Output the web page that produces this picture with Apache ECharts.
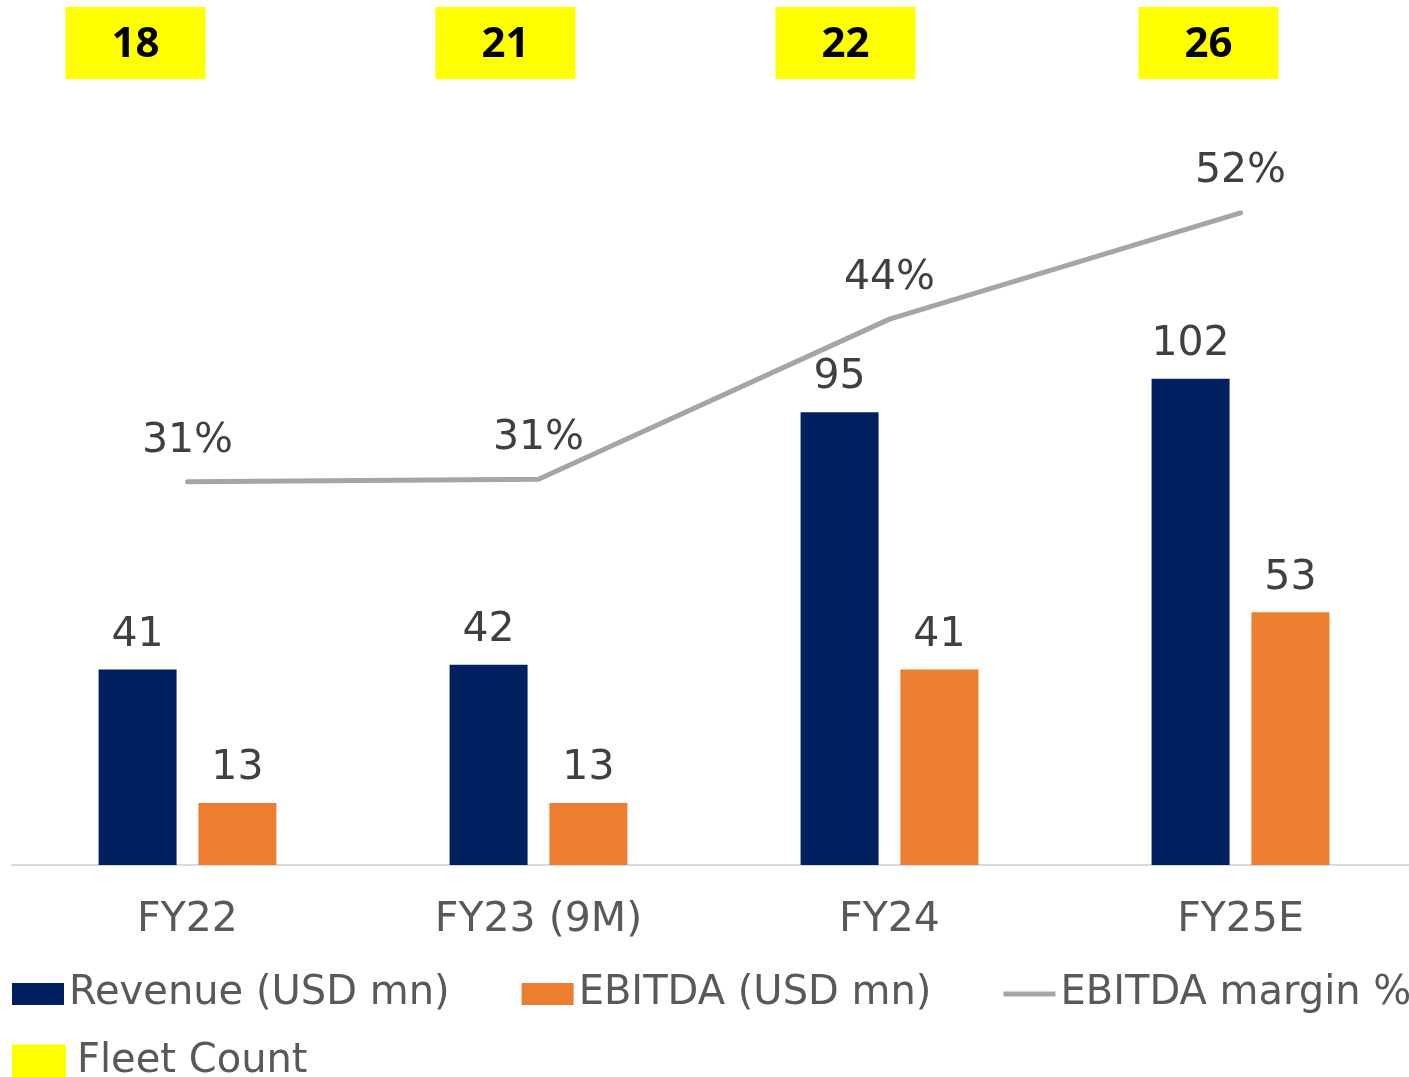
<!DOCTYPE html>
<html>
<head>
<meta charset="utf-8">
<script src="https://cdn.jsdelivr.net/npm/echarts@6/dist/echarts.min.js"></script>
<style>
    html, body { margin: 0; padding: 0; background: #fff; }
    #chart { width: 1409px; height: 1077px; }
</style>
</head>
<body>
<div id="chart"></div>
<script>
    // data
    var years = ['FY22', 'FY23 (9M)', 'FY24', 'FY25E'];
    var revenue = [41, 42, 95, 102];
    var ebitda = [13, 13, 41, 53];
    var margin = [31, 31.2, 43.7, 52];
    var fleet = [18, 21, 22, 26];

    // the yellow boxes sit a little left of each category centre
    var fleetNudge = [-52, -33, -44, -32];

    var font = 'DejaVu Sans';
    var chart = echarts.init(document.getElementById('chart'));

    // thin bar icon for the margin line in the legend (bounds kept at 52x22)
    var lineIcon = 'path://M0,0 M0,8.5 L52,8.5 L52,13.5 L0,13.5 Z M52,22';

    chart.setOption({
        animation: false,
        textStyle: { fontFamily: font },
        grid: [
            { left: 12, width: 1404, top: 150, bottom: 212, outerBoundsMode: 'none', containLabel: false },
            { left: 12, width: 1404, top: 7, height: 72, outerBoundsMode: 'none', containLabel: false }
        ],
        xAxis: [
            {
                type: 'category',
                gridIndex: 0,
                data: years,
                axisLine: { lineStyle: { color: '#d9d9d9', width: 2 } },
                axisTick: { show: false },
                axisLabel: { fontSize: 41, color: '#595959', margin: 35, fontFamily: font }
            },
            {
                type: 'category',
                gridIndex: 1,
                data: years,
                show: false
            }
        ],
        yAxis: [
            { type: 'value', gridIndex: 0, min: 0, max: 150, show: false },
            { type: 'value', gridIndex: 0, min: 1.1, max: 56.9, show: false },
            { type: 'value', gridIndex: 1, min: 0, max: 1, show: false }
        ],
        legend: [
            {
                left: 7,
                top: 969,
                width: 1600,
                itemWidth: 52,
                itemHeight: 22,
                itemGap: 72,
                data: [
                    { name: 'Revenue (USD mn)', icon: 'rect' },
                    { name: 'EBITDA (USD mn)', icon: 'rect' },
                    { name: 'EBITDA margin %', icon: lineIcon }
                ],
                textStyle: { fontSize: 40, color: '#595959', fontFamily: font }
            },
            {
                left: 7,
                top: 1037,
                itemWidth: 54,
                itemHeight: 35,
                data: [{ name: 'Fleet Count', icon: 'rect' }],
                textStyle: { fontSize: 40, color: '#595959', fontFamily: font, padding: [0, 0, 0, 6] }
            }
        ],
        series: [
            {
                name: 'Revenue (USD mn)',
                type: 'bar',
                xAxisIndex: 0,
                yAxisIndex: 0,
                data: revenue,
                barWidth: 78,
                barGap: '28%',
                itemStyle: { color: '#002060' },
                label: { show: true, position: 'top', distance: 14, fontSize: 41, color: '#404040', fontFamily: font }
            },
            {
                name: 'EBITDA (USD mn)',
                type: 'bar',
                xAxisIndex: 0,
                yAxisIndex: 0,
                data: ebitda,
                barWidth: 78,
                itemStyle: { color: '#ed7d31' },
                label: { show: true, position: 'top', distance: 14, fontSize: 41, color: '#404040', fontFamily: font }
            },
            {
                name: 'EBITDA margin %',
                type: 'line',
                xAxisIndex: 0,
                yAxisIndex: 1,
                data: margin,
                symbol: 'circle',
                symbolSize: 1,
                lineStyle: { color: '#a5a5a5', width: 5, cap: 'round' },
                itemStyle: { color: '#a5a5a5' },
                label: {
                    show: true,
                    position: 'top',
                    distance: 20,
                    fontSize: 41,
                    color: '#404040',
                    fontFamily: font,
                    formatter: function (p) { return Math.round(p.value) + '%'; }
                }
            },
            {
                name: 'Fleet Count',
                type: 'scatter',
                xAxisIndex: 1,
                yAxisIndex: 2,
                symbol: 'rect',
                symbolSize: [140, 72],
                itemStyle: { color: '#ffff00', opacity: 1 },
                data: fleet.map(function (v, i) {
                    return { value: [i, 0.5, v], symbolOffset: [fleetNudge[i], 0] };
                }),
                label: {
                    show: true,
                    position: 'inside',
                    offset: [0, 2],
                    fontSize: 42,
                    fontWeight: 'bold',
                    color: '#000',
                    fontFamily: 'Noto Sans',
                    formatter: function (p) { return p.value[2]; }
                }
            }
        ]
    });
</script>
</body>
</html>
